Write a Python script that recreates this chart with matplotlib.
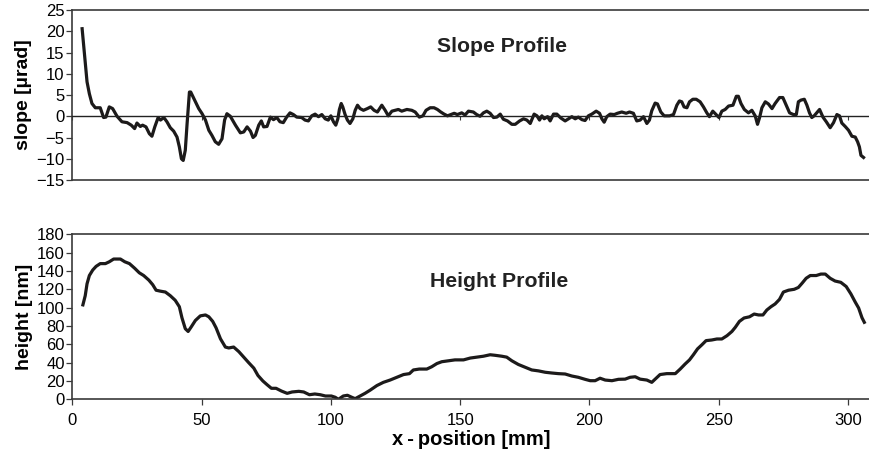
import matplotlib
matplotlib.use("Agg")
import matplotlib.pyplot as plt

plt.rcParams["font.family"] = ["Liberation Sans", "DejaVu Sans"]

# slope profile
slope_x = [3.8, 4.8, 5.7, 6.6, 7.6, 8.9, 10.8, 12.1, 13.0, 14.3, 15.6, 17.3, 19.2, 21.2,
           22.8, 24.1, 25.0, 26.3, 27.2, 28.5, 29.8, 30.8, 31.9, 33.2, 34.1, 35.4, 36.6,
           37.9, 39.2, 40.5, 41.4, 42.2, 42.9, 43.7, 44.4, 45.3, 45.8, 47.0, 48.9, 50.2,
           51.5, 52.8, 54.0, 55.3, 56.6, 57.9, 58.9, 59.8, 61.1, 63.1, 65.0, 66.3, 67.6,
           68.9, 69.9, 70.8, 72.1, 73.1, 74.0, 75.3, 76.6, 77.8, 79.1, 80.3, 81.6, 82.9,
           84.2, 85.5, 86.8, 88.7, 90.0, 91.3, 92.6, 93.9, 95.2, 96.5, 97.8, 99.0, 100.0,
           101.0, 101.9, 102.7, 103.3, 104.0, 104.6, 105.5, 106.4, 107.4, 108.5, 109.4,
           110.3, 111.3, 112.6, 114.1, 115.4, 116.7, 118.0, 119.7, 121.0, 122.2, 123.6,
           124.8, 126.1, 127.4, 129.4, 131.3, 132.6, 134.2, 135.6, 136.8, 138.4, 139.9,
           141.2, 142.5, 143.8, 145.1, 146.4, 147.7, 148.9, 150.6, 151.9, 153.2, 155.1,
           156.4, 157.7, 159.0, 160.3, 161.6, 162.9, 164.2, 165.5, 166.7, 168.3, 170.0,
           171.3, 173.0, 174.5, 175.8, 177.1, 178.6, 179.7, 180.7, 181.6, 182.5, 183.8,
           184.8, 186.1, 187.4, 188.9, 190.6, 191.9, 193.2, 194.5, 195.7, 197.1, 198.3,
           199.6, 200.9, 202.6, 203.9, 204.8, 205.7, 206.7, 208.0, 209.6, 210.8, 212.5,
           214.2, 215.5, 217.0, 218.3, 219.6, 220.9, 222.2, 223.2, 224.1, 225.4, 226.3,
           227.6, 228.9, 231.0, 232.5, 233.8, 234.8, 235.7, 236.6, 237.7, 238.7, 240.0,
           241.3, 242.8, 244.1, 245.4, 246.4, 247.7, 249.0, 250.1, 251.2, 252.5, 253.8,
           255.5, 256.8, 257.6, 258.6, 259.9, 261.5, 262.8, 264.1, 265.0, 265.8, 266.7,
           268.0, 269.2, 270.6, 271.8, 273.5, 274.8, 276.1, 277.4, 278.9, 280.0, 280.8,
           281.8, 283.1, 284.1, 285.1, 286.0, 286.9, 288.0, 289.0, 290.3, 291.6, 293.1,
           294.4, 295.7, 296.7, 297.6, 298.9, 300.2, 301.5, 302.8, 303.7, 304.4, 305.0,
           306.0]
slope_y = [20.6, 14.0, 8.1, 5.3, 3.0, 2.0, 2.0, -0.3, -0.2, 2.2, 1.8, 0.0, -1.3, -1.5,
           -2.1, -2.9, -1.6, -2.4, -2.1, -2.5, -4.1, -4.7, -2.5, -0.3, -0.9, -0.3, -1.3,
           -2.7, -3.5, -4.9, -7.2, -10.0, -10.4, -8.0, -1.7, 5.7, 5.7, 4.2, 1.8, 0.6,
           -0.9, -3.3, -4.5, -6.0, -6.6, -5.3, -0.9, 0.6, 0.0, -2.1, -3.9, -3.7, -2.5,
           -3.5, -5.0, -4.5, -2.1, -1.1, -2.5, -2.4, -0.2, -0.8, -0.3, -1.3, -1.5, -0.2,
           0.8, 0.4, -0.2, -0.3, -0.9, -1.1, 0.1, 0.5, -0.1, 0.4, -0.6, -0.9, 0.1,
           -1.3, -2.1, -0.6, 1.6, 3.0, 2.2, 0.4, -0.9, -1.7, -0.6, 1.4,
           2.6, 1.8, 1.4, 1.8, 2.2, 1.4, 1.0, 2.6, 1.4, 0.1, 1.2,
           1.4, 1.6, 1.2, 1.6, 1.4, 1.0, -0.2, 0.1, 1.4, 2.0, 2.0,
           1.6, 1.0, 0.5, 0.1, 0.4, 0.7, 0.4, 0.8, 0.3, 1.2, 1.0,
           0.4, 0.0, 0.8, 1.2, 0.7, -0.3, -0.2, 0.5, -0.7, -1.1, -1.9,
           -1.9, -1.1, -0.6, -0.9, -1.7, 0.5, 0.1, -0.9, 0.1, -0.6, -0.1,
           -1.1, 0.5, 0.5, -0.4, -1.1, -0.6, -0.1, -0.6, -0.2, -0.8, -1.0,
           0.1, 0.5, 1.2, 0.7, -0.6, -1.4, -0.1, 0.5, 0.4, 0.7, 1.0,
           0.7, 1.0, 0.7, -1.1, -0.9, -0.1, -1.7, -0.9, 1.3, 3.1, 2.9,
           1.0, 0.1, 0.1, 0.4, 2.6, 3.6, 3.4, 2.2, 2.0, 3.4, 4.0,
           4.0, 3.4, 2.2, 0.8, -0.1, 1.2, 0.4, -0.3, 1.2, 1.6, 2.4,
           2.6, 4.7, 4.7, 3.0, 1.6, 0.8, 1.4, 0.1, -1.9, -0.3, 2.0,
           3.4, 2.9, 1.8, 3.0, 4.4, 4.4, 2.6, 0.8, 0.4, 0.4, 3.4,
           3.8, 4.0, 2.6, 0.8, -0.3, 0.1, 0.9, 1.6, -0.2, -1.3, -2.7,
           -1.5, 0.4, 0.1, -1.6, -2.4, -3.3, -4.7, -4.9, -6.0, -7.2, -9.2,
           -9.7]

# height profile
height_x = [4.1, 5.0, 5.7, 6.6, 7.9, 9.2, 10.8, 12.8, 14.3, 16.0, 18.6, 20.3, 22.1, 24.1,
            25.9, 27.6, 29.6, 31.1, 32.4, 34.0, 36.0, 37.9, 39.8, 41.4, 42.4, 43.7, 44.8,
            46.0, 47.6, 49.5, 51.5, 52.8, 54.3, 55.6, 57.3, 59.2, 60.5, 62.4, 64.4, 66.3,
            68.2, 70.2, 71.8, 73.7, 75.3, 77.0, 78.8, 80.9, 83.1, 85.0, 87.6, 89.5, 91.7,
            93.8, 95.9, 97.9, 100.2, 101.7, 102.9, 104.8, 106.4, 108.1, 109.4, 111.3,
            113.2, 115.2, 117.8, 120.3, 122.9, 125.5, 128.1, 130.4, 131.9, 134.2, 137.1,
            139.0, 141.0, 142.9, 145.5, 148.0, 151.3, 153.9, 156.4, 159.0, 161.6, 163.5,
            166.1, 168.0, 170.0, 172.5, 175.1, 177.7, 180.3, 182.9, 185.4, 188.0, 190.6,
            193.2, 195.7, 198.3, 200.3, 202.2, 204.1, 206.1, 208.7, 211.2, 213.8, 215.7,
            217.7, 219.6, 222.2, 224.1, 225.4, 227.3, 229.9, 233.2, 235.1, 237.0, 238.7,
            240.2, 241.8, 243.5, 245.1, 247.3, 249.3, 251.2, 253.2, 255.1, 256.4, 258.0,
            259.8, 261.9, 263.7, 265.4, 267.1, 268.6, 270.2, 271.8, 273.5, 275.0, 277.0,
            279.2, 280.8, 282.2, 283.8, 285.4, 287.7, 289.5, 291.2, 293.1, 295.0, 297.2,
            299.3, 301.1, 302.8, 304.1, 305.4, 306.3]
height_y = [103, 113, 126, 135, 141, 145, 148, 148, 150, 153, 153, 150, 148, 143,
            138, 135, 130, 125, 119, 118, 117, 113, 108, 101, 89, 77, 74,
            79, 86, 91, 92, 90, 85, 78, 66, 57, 56, 57, 52, 46,
            40, 34, 26, 20, 16, 12, 12, 9, 6.5, 8, 8.7, 8, 5,
            5.8, 5, 3.6, 3.6, 2.2, 0.0, 3.6, 4.4, 2.2, 0.7, 3.6,
            6.5, 10, 15, 18.5, 21, 24, 27, 28, 32, 33, 33,
            35.5, 39, 41, 42, 43, 43, 45, 46, 47, 48.6, 48,
            47, 46, 42, 38, 35, 32, 31, 29.5, 28.7, 28, 27.6,
            25.4, 24, 21.8, 20.3, 20.3, 23, 21, 20.3, 21.8, 22, 24,
            24.6, 22, 21, 18.5, 22, 27, 28, 28, 33, 38.5, 43,
            48.6, 55, 59.5, 64, 64.7, 65.8, 65.8, 69.4, 74, 78.5, 85,
            88.7, 90, 93, 92, 92, 97.4, 101, 104, 109, 117, 119,
            120, 122, 126.5, 132, 135, 135, 136.6, 136.6, 132, 129, 127.6,
            123, 115, 106, 99.6, 89, 84]

x_ticks = [0, 50, 100, 150, 200, 250, 300]
slope_ticks = [-15, -10, -5, 0, 5, 10, 15, 20, 25]
height_ticks = [0, 20, 40, 60, 80, 100, 120, 140, 160, 180]

line_color = "#1c1a1a"
frame_color = "#3a3a3a"

fig = plt.figure(figsize=(8.7, 4.55), dpi=100)
ax1 = fig.add_axes([0.0831, 0.6044, 0.9169, 0.3736])
ax2 = fig.add_axes([0.0831, 0.1224, 0.9169, 0.3627])

# --- slope
ax1.plot(slope_x, slope_y, color=line_color, lw=2.3, solid_joinstyle="round")
ax1.set_xlim(0, 308.5)
ax1.set_ylim(-15, 25)
ax1.set_yticks(slope_ticks)
ax1.set_xticks(x_ticks)
ax1.set_xticklabels([])
ax1.spines["right"].set_visible(False)
ax1.spines["bottom"].set_position(("data", 0))
ax1.axhline(-15, color=frame_color, lw=1.2, clip_on=False)
ax1.tick_params(axis="x", length=3, width=0.8, color=frame_color)
ax1.tick_params(axis="y", length=4, width=0.9, labelsize=12, pad=1.5, color=frame_color)
ax1.set_ylabel("slope [µrad]", fontsize=14, fontweight="bold", labelpad=3)
ax1.text(166, 16.4, "Slope Profile", ha="center", va="center", fontsize=15.3,
         fontweight="bold", color="#222222")

# --- height
ax2.plot(height_x, height_y, color=line_color, lw=2.3, solid_joinstyle="round")
ax2.set_xlim(0, 308.5)
ax2.set_ylim(0, 180)
ax2.set_yticks(height_ticks)
ax2.set_xticks(x_ticks)
ax2.spines["right"].set_visible(False)
ax2.tick_params(axis="both", length=4, width=0.9, labelsize=12, color=frame_color)
ax2.tick_params(axis="y", pad=1.5)
ax2.tick_params(axis="x", pad=5.5)
ax2.set_ylabel("height [nm]", fontsize=14, fontweight="bold", labelpad=3)
ax2.set_xlabel("x\u2009-\u2009position [mm]", fontsize=14.5, fontweight="bold", labelpad=2)
ax2.text(165, 128, "Height Profile", ha="center", va="center", fontsize=15.3,
         fontweight="bold", color="#222222")

for ax in (ax1, ax2):
    for side in ("top", "left", "bottom"):
        ax.spines[side].set_color(frame_color)
        ax.spines[side].set_linewidth(1.2)
ax1.spines["bottom"].set_linewidth(1.0)
ax1.spines["bottom"].set_color("#222222")

fig.savefig("out.png", dpi=100)
